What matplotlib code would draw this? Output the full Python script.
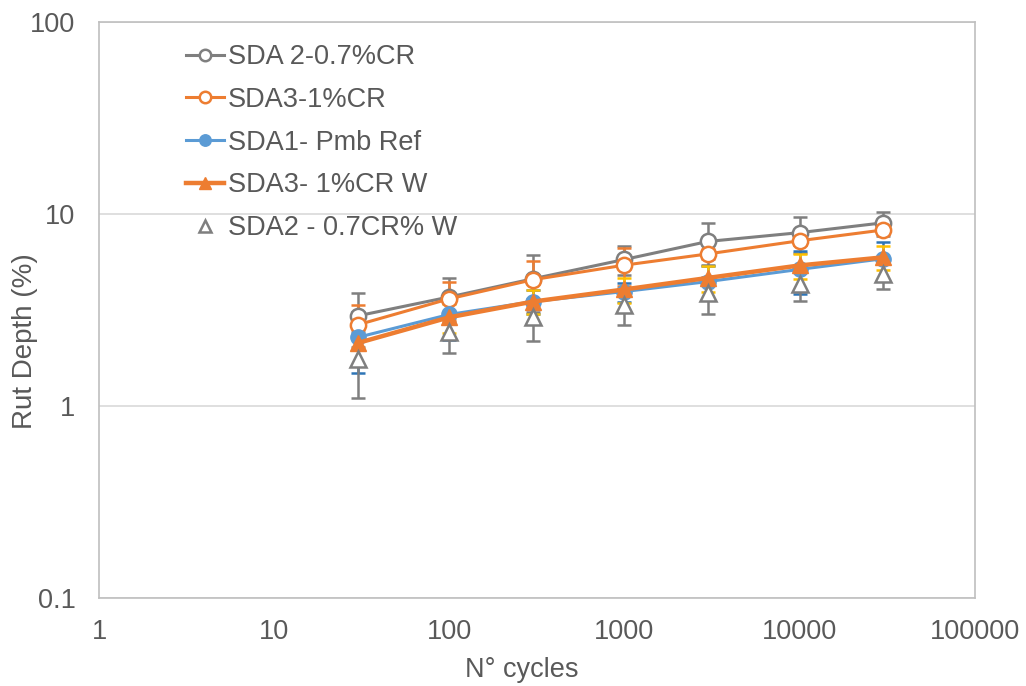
import matplotlib
matplotlib.use("Agg")
import matplotlib.pyplot as plt
from matplotlib.ticker import FixedLocator, NullLocator

plt.rcParams['font.family'] = ['Liberation Sans', 'DejaVu Sans']

cycles = [30, 100, 300, 1000, 3000, 10000, 30000]

sda2_cr = [2.95, 3.7, 4.6, 5.8, 7.2, 8.0, 9.0]
sda2_cr_err = [0.93, 0.95, 1.5, 1.0, 1.8, 1.7, 1.3]

sda3_cr = [2.65, 3.62, 4.55, 5.42, 6.2, 7.26, 8.26]
sda3_cr_err = [0.7, 0.8, 1.15, 1.2, 0.35, 0.35, 0.3]

sda1_ref = [2.28, 3.0, 3.5, 3.95, 4.45, 5.15, 5.85]
sda1_ref_err = [0.8, 0.8, 0.5, 0.45, 0.9, 1.3, 1.3]

sda3_w = [2.13, 2.9, 3.5, 4.05, 4.65, 5.4, 5.95]
sda3_w_err = [0.5, 0.5, 0.5, 0.6, 0.7, 0.8, 0.85]

sda2_w = [1.76, 2.42, 2.9, 3.36, 3.86, 4.32, 4.87]
sda2_w_err = [0.66, 0.52, 0.71, 0.72, 0.85, 0.78, 0.8]

labels = ["SDA 2-0.7%CR", "SDA3-1%CR", "SDA1- Pmb Ref", "SDA3- 1%CR W", "SDA2 - 0.7CR% W"]

GRAY = "#7F7F7F"
ORANGE = "#ED7D31"
BLUE = "#5B9BD5"
YELLOW = "#FFC000"
TXT = "#595959"
FS = 19.5

fig = plt.figure(figsize=(10.26, 6.86), dpi=100)
ax = fig.add_axes([0.0965, 0.128, 0.8535, 0.84])

ax.set_xscale('log')
ax.set_yscale('log')
ax.set_xlim(1, 100000)
ax.set_ylim(0.1, 100)

ax.yaxis.grid(True, which='major', color='#D9D9D9', linewidth=1.2, zorder=0)
ax.set_axisbelow(True)

ms = 11
lw = 2.2
cs = 5

# error bars
ax.errorbar(cycles, sda2_cr, yerr=sda2_cr_err, fmt='none', ecolor=GRAY, elinewidth=1.8, capsize=cs, capthick=1.8, zorder=2)
ax.errorbar(cycles, sda3_cr, yerr=sda3_cr_err, fmt='none', ecolor=ORANGE, elinewidth=1.8, capsize=cs, capthick=1.8, zorder=2)
ax.errorbar(cycles, sda1_ref, yerr=sda1_ref_err, fmt='none', ecolor="#2E75B6", elinewidth=1.8, capsize=cs, capthick=1.8, zorder=2)
ax.errorbar(cycles, sda3_w, yerr=sda3_w_err, fmt='none', ecolor=YELLOW, elinewidth=1.8, capsize=cs, capthick=1.8, zorder=2)
ax.errorbar(cycles, sda2_w, yerr=sda2_w_err, fmt='none', ecolor=GRAY, elinewidth=1.8, capsize=cs, capthick=1.8, zorder=2)

h1, = ax.plot(cycles, sda2_cr, color=GRAY, lw=lw, marker='o', ms=ms, mfc='white', mec=GRAY, mew=1.8, zorder=3)
h2, = ax.plot(cycles, sda3_cr, color=ORANGE, lw=lw, marker='o', ms=ms, mfc='white', mec=ORANGE, mew=1.8, zorder=4)
h3, = ax.plot(cycles, sda1_ref, color=BLUE, lw=lw, marker='o', ms=ms, mfc=BLUE, mec=BLUE, zorder=5)
h4, = ax.plot(cycles, sda3_w, color=ORANGE, lw=lw + 1, marker='^', ms=ms, mfc=ORANGE, mec=ORANGE, zorder=6)
h5, = ax.plot(cycles, sda2_w, ls='none', marker='^', ms=ms, mfc='white', mec=GRAY, mew=1.8, zorder=7)

ax.xaxis.set_major_locator(FixedLocator([1, 10, 100, 1000, 10000, 100000]))
ax.xaxis.set_minor_locator(NullLocator())
ax.yaxis.set_major_locator(FixedLocator([0.1, 1, 10, 100]))
ax.yaxis.set_minor_locator(NullLocator())
ax.set_xticklabels(["1", "10", "100", "1000", "10000", "100000"])
ax.set_yticklabels(["0.1", "1", "10", "100"])
ax.tick_params(axis='both', length=0, labelsize=FS, colors=TXT)
ax.tick_params(axis='x', pad=15)
ax.tick_params(axis='y', pad=17)

for s in ax.spines.values():
    s.set_color('#BFBFBF')
    s.set_linewidth(1.2)

ax.set_xlabel("N° cycles", fontsize=FS, color=TXT, va='center', ha='center')
ax.xaxis.set_label_coords(0.483, -0.125)
ax.set_ylabel("Rut Depth (%)", fontsize=FS + 0.5, color=TXT, va='center', ha='center')
ax.yaxis.set_label_coords(-0.0845, 0.446)

leg = ax.legend([h1, h2, h3, h4, h5], labels, loc='upper left',
                bbox_to_anchor=(186 / 1026, 1 - 44 / 686), bbox_transform=fig.transFigure,
                frameon=False, fontsize=FS, handlelength=1.4, handletextpad=0.15,
                labelspacing=0.62, borderaxespad=0, borderpad=0, markerscale=0.75)
for t in leg.get_texts():
    t.set_color(TXT)

fig.savefig("out.png", dpi=100)
